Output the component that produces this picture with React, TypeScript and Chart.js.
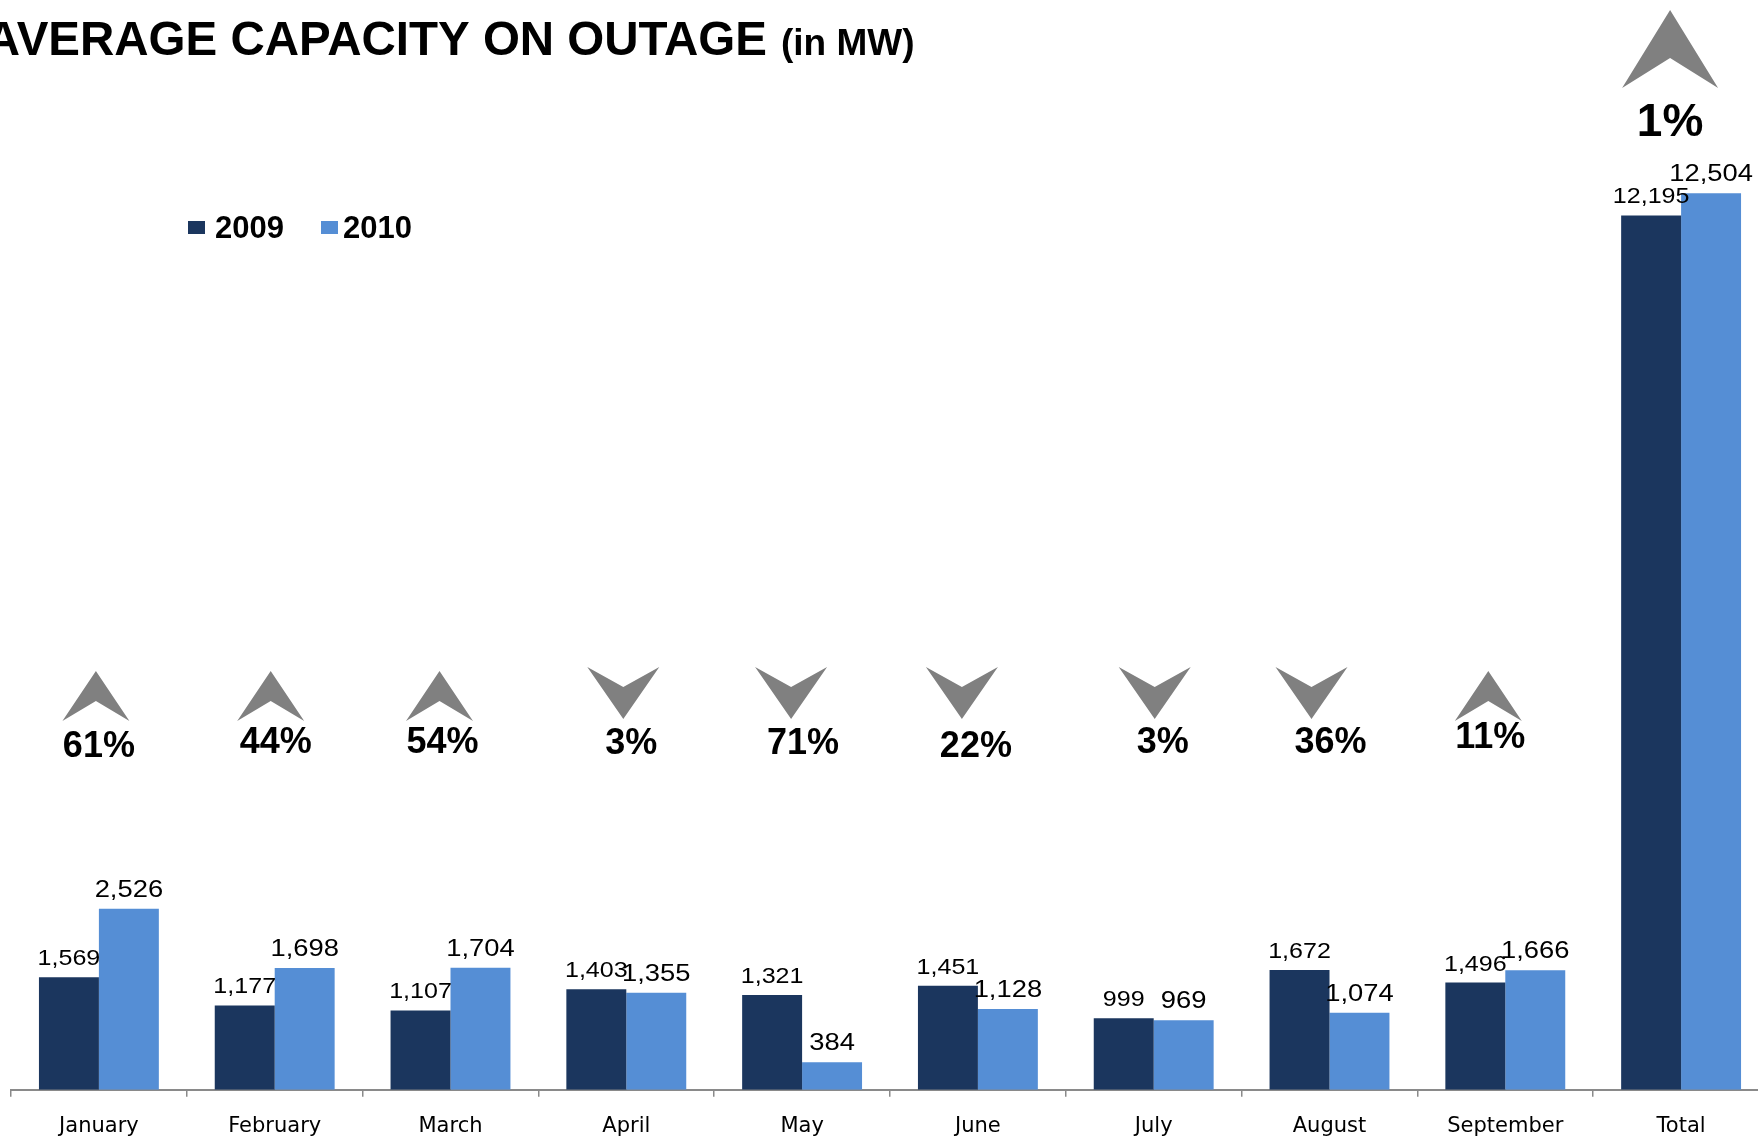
import React, { useEffect, useRef } from "react";
import { Chart, registerables } from "chart.js";

Chart.register(...registerables);

// ---- data ----
const categories = ["January", "February", "March", "April", "May", "June", "July", "August", "September", "Total"];
const values2009 = [1569, 1177, 1107, 1403, 1321, 1451, 999, 1672, 1496, 12195];
const values2010 = [2526, 1698, 1704, 1355, 384, 1128, 969, 1074, 1666, 12504];
const changeLabels = ["61%", "44%", "54%", "3%", "71%", "22%", "3%", "36%", "11%", "1%"];
const changeDirections = ["up", "up", "up", "down", "down", "down", "down", "down", "up", "up"];
const seriesNames = ["2009", "2010"];
const titleMain = "AVERAGE CAPACITY ON OUTAGE";
const titleUnit = "(in MW)";

// ---- layout nudges for annotations (relative to category centres) ----
const arrowDx = [-3, -4, -11, -3, -11, -16, 1, -18, -17, -11];
const pctDx = [0, 1, -8, 5, 1, -2, 9, 1, -15, -11];
const pctDy = [3, -1, -1, 0, 0, 3, -1, -1, -6, 0];

const DARK = "#1B365E";
const BLUE = "#558ED5";
const ARROW = "#808080";
const AXIS = "#8a8a8a";

function drawArrow(ctx: CanvasRenderingContext2D, cx: number, top: number, w: number, h: number, notch: number, up: boolean) {
  ctx.beginPath();
  if (up) {
    ctx.moveTo(cx, top);
    ctx.lineTo(cx + w / 2, top + h);
    ctx.lineTo(cx, top + h - notch);
    ctx.lineTo(cx - w / 2, top + h);
  } else {
    ctx.moveTo(cx - w / 2, top);
    ctx.lineTo(cx, top + notch);
    ctx.lineTo(cx + w / 2, top);
    ctx.lineTo(cx, top + h);
  }
  ctx.closePath();
  ctx.fill();
}

const overlayPlugin = {
  id: "overlay",
  afterDatasetsDraw(chart: any) {
    const ctx: CanvasRenderingContext2D = chart.ctx;
    const fonts = [22, 24];
    const gaps = [12, 12];
    chart.data.datasets.forEach((ds: any, i: number) => {
      const meta = chart.getDatasetMeta(i);
      meta.data.forEach((el: any, j: number) => {
        const txt = Number(ds.data[j]).toLocaleString("en-US");
        ctx.save();
        ctx.translate(el.x, el.y - gaps[i]);
        ctx.scale(1.14, 1);
        ctx.font = `${fonts[i]}px "Liberation Sans", Arial, sans-serif`;
        ctx.textAlign = "center";
        ctx.textBaseline = "alphabetic";
        ctx.fillStyle = "#000";
        ctx.fillText(txt, 0, 0);
        ctx.restore();
      });
    });
  },
  afterDraw(chart: any) {
    const ctx: CanvasRenderingContext2D = chart.ctx;
    const xScale = chart.scales.x;
    ctx.save();
    // title
    ctx.fillStyle = "#000";
    ctx.textBaseline = "alphabetic";
    ctx.font = 'bold 47.5px "Liberation Sans", Arial, sans-serif';
    ctx.textAlign = "right";
    ctx.fillText(titleMain, 767, 55);
    ctx.textAlign = "left";
    ctx.font = 'bold 37px "Liberation Sans", Arial, sans-serif';
    ctx.fillText(titleUnit, 781, 55);

    // legend
    const legendItems = [
      { name: seriesNames[0], color: DARK, box: 188, text: 215 },
      { name: seriesNames[1], color: BLUE, box: 321, text: 343 },
    ];
    legendItems.forEach((it) => {
      ctx.fillStyle = it.color;
      ctx.fillRect(it.box, 221, 17, 13);
      ctx.fillStyle = "#000";
      ctx.font = 'bold 31px "Liberation Sans", Arial, sans-serif';
      ctx.textAlign = "left";
      ctx.fillText(it.name, it.text, 238);
    });

    // change arrows and percentages
    categories.forEach((_c, i) => {
      const cx = xScale.getPixelForValue(i);
      const up = changeDirections[i] === "up";
      const isTotal = i === categories.length - 1;
      ctx.fillStyle = ARROW;
      if (isTotal) {
        drawArrow(ctx, cx + arrowDx[i], 10, 96, 78, 30, true);
      } else if (up) {
        drawArrow(ctx, cx + arrowDx[i], 671, 67, 50, 20, true);
      } else {
        drawArrow(ctx, cx + arrowDx[i], 667, 72, 52, 20, false);
      }
      ctx.fillStyle = "#000";
      ctx.textAlign = "center";
      if (isTotal) {
        ctx.font = 'bold 46px "Liberation Sans", Arial, sans-serif';
        ctx.fillText(changeLabels[i], cx + pctDx[i], 136);
      } else {
        ctx.font = 'bold 36px "Liberation Sans", Arial, sans-serif';
        ctx.fillText(changeLabels[i], cx + pctDx[i], 754 + pctDy[i]);
      }
    });
    ctx.restore();
  },
};

export default function App() {
  const canvasRef = useRef<HTMLCanvasElement | null>(null);

  useEffect(() => {
    if (!canvasRef.current) return;
    const chart = new Chart(canvasRef.current, {
      type: "bar",
      data: {
        labels: categories,
        datasets: [
          {
            label: seriesNames[0],
            data: values2009,
            backgroundColor: DARK,
            borderWidth: 0,
            categoryPercentage: 0.682,
            barPercentage: 1,
          },
          {
            label: seriesNames[1],
            data: values2010,
            backgroundColor: BLUE,
            borderWidth: 0,
            categoryPercentage: 0.682,
            barPercentage: 1,
          },
        ],
      },
      options: {
        responsive: false,
        animation: false,
        devicePixelRatio: 1,
        layout: { padding: { left: 11, right: 1, top: 0, bottom: 0 } },
        plugins: {
          legend: { display: false },
          title: { display: false },
          tooltip: { enabled: false },
        },
        scales: {
          x: {
            offset: true,
            grid: {
              display: true,
              offset: true,
              drawOnChartArea: false,
              drawTicks: true,
              tickLength: 7,
              color: AXIS,
              lineWidth: 1.5,
            },
            border: { display: true, color: AXIS, width: 2 },
            ticks: {
              color: "#000",
              font: { family: '"DejaVu Sans", sans-serif', size: 21 },
              padding: 17,
              maxRotation: 0,
              autoSkip: false,
            },
          },
          y: { display: false, min: 0, max: 15200 },
        },
      },
      plugins: [overlayPlugin],
    });
    return () => chart.destroy();
  }, []);

  return (
    <div
      style={{
        position: "fixed",
        left: 0,
        top: 0,
        width: "100vw",
        height: "100vh",
        overflow: "hidden",
        background: "#fff",
      }}
    >
      <canvas ref={canvasRef} width={1770} height={1156} style={{ display: "block" }} />
    </div>
  );
}
